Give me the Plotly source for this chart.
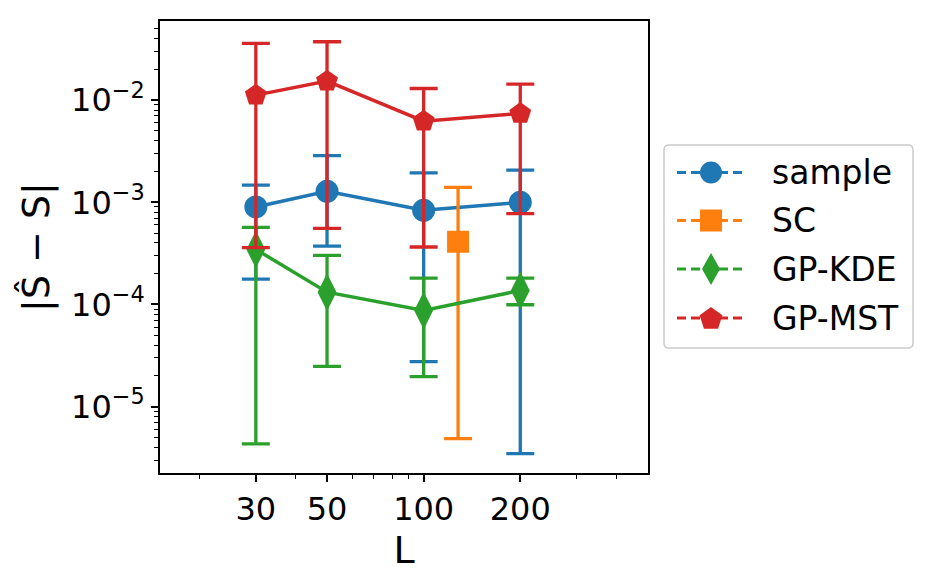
import math
import plotly.graph_objects as go

L = [30, 50, 100, 200]
sample_y = [9.0e-4, 1.28e-3, 8.35e-4, 1.0e-3]
sample_hi = [1.47e-3, 2.87e-3, 1.94e-3, 2.07e-3]
sample_lo = [1.77e-4, 3.73e-4, 2.76e-5, 3.46e-6]

SC_L = [128]
sc_y = [4.11e-4]
sc_hi = [1.40e-3]
sc_lo = [4.85e-6]

kde_y = [3.46e-4, 1.32e-4, 8.73e-5, 1.37e-4]
kde_hi = [5.69e-4, 3.02e-4, 1.81e-4, 1.81e-4]
kde_lo = [4.31e-6, 2.48e-5, 1.97e-5, 9.93e-5]

mst_y = [1.12e-2, 1.535e-2, 6.23e-3, 7.4e-3]
mst_hi = [3.59e-2, 3.73e-2, 1.30e-2, 1.436e-2]
mst_lo = [3.6e-4, 5.56e-4, 3.65e-4, 7.74e-4]

x_ticks = [30, 50, 100, 200]
x_minor = [20, 40, 60, 70, 80, 90, 300, 400]
y_ticks = [1e-5, 1e-4, 1e-3, 1e-2]
y_ticktext = ["10<sup>−5</sup>", "10<sup>−4</sup>", "10<sup>−3</sup>", "10<sup>−2</sup>"]
y_minor = [m * 10.0 ** e for e in range(-6, -1) for m in range(2, 10)]

names = ["sample", "SC", "GP-KDE", "GP-MST"]
colors = ["#1f77b4", "#ff7f0e", "#2ca02c", "#d62728"]
symbols = ["circle", "square", "diamond-tall", "pentagon"]
sizes = [23, 22, 27, 23]

data = [
    (L, sample_y, sample_hi, sample_lo),
    (SC_L, sc_y, sc_hi, sc_lo),
    (L, kde_y, kde_hi, kde_lo),
    (L, mst_y, mst_hi, mst_lo),
]

fig = go.Figure()
for (xs, ys, hi, lo), name, col, sym, sz in zip(data, names, colors, symbols, sizes):
    fig.add_trace(go.Scatter(
        x=xs, y=ys, mode="lines+markers", name=name, showlegend=False,
        line=dict(color=col, width=3.5),
        marker=dict(color=col, symbol=sym, size=sz, line=dict(width=0)),
        error_y=dict(type="data", symmetric=False,
                     array=[h - v for h, v in zip(hi, ys)],
                     arrayminus=[v - l for v, l in zip(ys, lo)],
                     color=col, thickness=3.3, width=14),
    ))

# ---- manual legend (layout decoration, pixel -> paper conversion) ----
PL, PR, PT, PB = 160, 648, 21, 473
def px(x):
    return (x - PL) / (PR - PL)
def py(y):
    return (PB - y) / (PB - PT)

shapes = []
annotations = []
bx0, bx1, by0, by1, r = 664, 913, 145, 348, 5
path = (f"M {px(bx0 + r)},{py(by0)} L {px(bx1 - r)},{py(by0)} "
        f"Q {px(bx1)},{py(by0)} {px(bx1)},{py(by0 + r)} "
        f"L {px(bx1)},{py(by1 - r)} Q {px(bx1)},{py(by1)} {px(bx1 - r)},{py(by1)} "
        f"L {px(bx0 + r)},{py(by1)} Q {px(bx0)},{py(by1)} {px(bx0)},{py(by1 - r)} "
        f"L {px(bx0)},{py(by0 + r)} Q {px(bx0)},{py(by0)} {px(bx0 + r)},{py(by0)} Z")
shapes.append(dict(type="path", xref="paper", yref="paper", path=path,
                   line=dict(color="#cccccc", width=1.5), fillcolor="white",
                   layer="above"))
row_y = [172.5, 220.5, 269, 318]
lx0, lx1, mx, tx = 677, 745, 711, 770
for i, (name, col, sym) in enumerate(zip(names, colors, symbols)):
    yc = row_y[i]
    shapes.append(dict(type="line", xref="paper", yref="paper",
                       x0=px(lx0), x1=px(lx1), y0=py(yc), y1=py(yc),
                       line=dict(color=col, width=3, dash="9px,5px"), layer="above"))
    if sym == "circle":
        rr = 11
        shapes.append(dict(type="circle", xref="paper", yref="paper",
                           x0=px(mx - rr), x1=px(mx + rr), y0=py(yc + rr), y1=py(yc - rr),
                           fillcolor=col, line=dict(width=0), layer="above"))
    elif sym == "square":
        h = 11
        shapes.append(dict(type="rect", xref="paper", yref="paper",
                           x0=px(mx - h), x1=px(mx + h), y0=py(yc + h), y1=py(yc - h),
                           fillcolor=col, line=dict(width=0), layer="above"))
    elif sym == "diamond-tall":
        w, hh = 9, 16
        p = (f"M {px(mx)},{py(yc - hh)} L {px(mx + w)},{py(yc)} "
             f"L {px(mx)},{py(yc + hh)} L {px(mx - w)},{py(yc)} Z")
        shapes.append(dict(type="path", xref="paper", yref="paper", path=p,
                           fillcolor=col, line=dict(width=0), layer="above"))
    else:
        rp = 12
        pts = []
        for k in range(5):
            a = math.radians(-90 + 72 * k)
            pts.append((mx + rp * math.cos(a), yc + 1 + rp * math.sin(a)))
        p = "M " + " L ".join(f"{px(a)},{py(b)}" for a, b in pts) + " Z"
        shapes.append(dict(type="path", xref="paper", yref="paper", path=p,
                           fillcolor=col, line=dict(width=0), layer="above"))
    annotations.append(dict(text=name, xref="paper", yref="paper",
                            x=px(tx), y=py(yc), xanchor="left", yanchor="middle",
                            showarrow=False, font=dict(size=33)))

font = "DejaVu Sans"
fig.update_layout(
    width=928, height=578,
    margin=dict(l=160, r=280, t=21, b=105),
    paper_bgcolor="white", plot_bgcolor="white",
    font=dict(family=font, size=32, color="black"),
    showlegend=False,
    shapes=shapes, annotations=annotations,
    xaxis=dict(type="log", range=[1.1785, 2.699], tickvals=x_ticks,
               ticktext=[str(v) for v in x_ticks],
               showline=True, mirror=True, linecolor="black", linewidth=1.6,
               ticks="outside", ticklen=7, tickwidth=1.6, tickcolor="black",
               showgrid=False, zeroline=False,
               minor=dict(tickvals=x_minor, ticks="outside", ticklen=4,
                          tickwidth=1.2, tickcolor="black", showgrid=False),
               title=dict(text="L", standoff=2)),
    yaxis=dict(type="log", range=[-5.65, -1.225], tickvals=y_ticks,
               ticktext=y_ticktext,
               showline=True, mirror=True, linecolor="black", linewidth=1.6,
               ticks="outside", ticklen=7, tickwidth=1.6, tickcolor="black",
               showgrid=False, zeroline=False,
               minor=dict(tickvals=y_minor, ticks="outside", ticklen=4,
                          tickwidth=1.2, tickcolor="black", showgrid=False),
               title=dict(text="|Ŝ − S|", standoff=10)),
)
fig.write_html("out.html")
